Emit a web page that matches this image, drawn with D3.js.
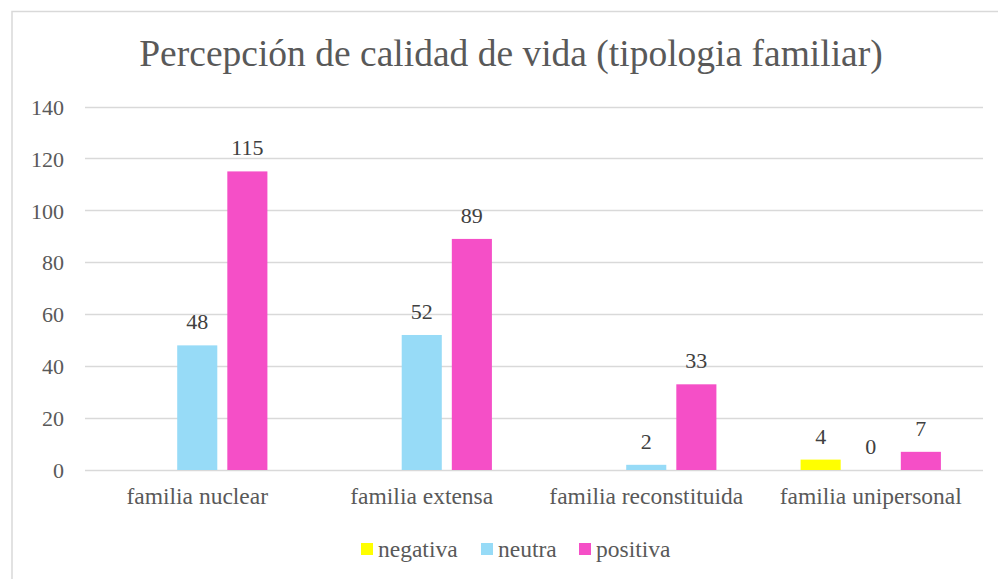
<!DOCTYPE html>
<html>
<head>
<meta charset="utf-8">
<script src="https://cdn.jsdelivr.net/npm/d3@7"></script>
<style>
  body { margin: 0; background: #fff; }
  svg { display: block; font-family: "Liberation Serif", "Times New Roman", serif; }
  svg text { font-family: "Liberation Serif", "Times New Roman", serif; }
</style>
</head>
<body>
<svg id="chart" width="998" height="579"></svg>
<script>
const categories = ["familia nuclear", "familia extensa", "familia reconstituida", "familia unipersonal"];
const series = ["negativa", "neutra", "positiva"];
const negativa = [null, null, null, 4];
const neutra = [48, 52, 2, 0];
const positiva = [115, 89, 33, 7];
const yTicks = [0, 20, 40, 60, 80, 100, 120, 140];

const colors = {
  negativa: "#ffff00",
  neutra: "#97dbf7",
  positiva: "#f54fc7",
};

const values = { negativa: negativa, neutra: neutra, positiva: positiva };

const svg = d3.select("#chart"),
  width = +svg.attr("width"),
  height = +svg.attr("height");

// chart frame (runs off the right and bottom of the picture)
svg
  .append("path")
  .attr("d", `M12,${height + 5}V11.5H${width + 5}`)
  .attr("fill", "none")
  .attr("stroke", "#d9d9d9")
  .attr("stroke-width", 1.5);

svg
  .append("text")
  .attr("x", 511)
  .attr("y", 66)
  .attr("text-anchor", "middle")
  .attr("font-size", 37.5)
  .attr("fill", "#595959")
  .text("Percepción de calidad de vida (tipologia familiar)");

const x0 = d3.scaleBand().domain(categories).range([85, 983]);
const groupW = x0.bandwidth() * 0.625;
const x1 = d3
  .scaleBand()
  .domain(series)
  .range([(x0.bandwidth() - groupW) / 2, (x0.bandwidth() + groupW) / 2])
  .paddingInner(0.2);

const y = d3.scaleLinear().domain([0, 140]).range([470, 106.5]);

// gridlines
svg
  .append("g")
  .selectAll("line")
  .data(yTicks)
  .join("line")
  .attr("x1", 85)
  .attr("x2", 983)
  .attr("y1", (d) => Math.round(y(d)) + 0.5)
  .attr("y2", (d) => Math.round(y(d)) + 0.5)
  .attr("stroke", "#d9d9d9")
  .attr("stroke-width", 1.3);

// y axis labels
const yAxis = svg
  .append("g")
  .attr("transform", "translate(64,0)")
  .call(d3.axisLeft(y).tickValues(yTicks).tickSize(0).tickPadding(0));
yAxis.attr("font-family", null);
yAxis.select(".domain").remove();
yAxis
  .selectAll("text")
  .attr("font-size", 22)
  .attr("fill", "#595959")
  .attr("dy", "0.35em");

// x axis labels
const xAxis = svg
  .append("g")
  .attr("transform", "translate(0,470)")
  .call(d3.axisBottom(x0).tickSize(0).tickPadding(17));
xAxis.attr("font-family", null);
xAxis.select(".domain").remove();
xAxis
  .selectAll("text")
  .attr("font-size", 23.5)
  .attr("fill", "#595959");

// bars
const rows = [];
categories.forEach(function (c, i) {
  series.forEach(function (s) {
    rows.push({ cat: c, key: s, value: values[s][i] });
  });
});
const shown = rows.filter((d) => d.value !== null);

const groups = svg.append("g");
groups
  .selectAll("rect")
  .data(shown)
  .join("rect")
  .attr("x", (d) => x0(d.cat) + x1(d.key))
  .attr("width", x1.bandwidth())
  .attr("y", (d) => y(d.value))
  .attr("height", (d) => y(0) - y(d.value))
  .attr("fill", (d) => colors[d.key]);

groups
  .selectAll("text")
  .data(shown)
  .join("text")
  .attr("x", (d) => x0(d.cat) + x1(d.key) + x1.bandwidth() / 2)
  .attr("y", (d) => y(d.value) - 16)
  .attr("text-anchor", "middle")
  .attr("font-size", 22)
  .attr("fill", "#404040")
  .text((d) => d.value);

// legend
const legendX = [361, 481, 579];
const legend = svg
  .append("g")
  .selectAll("g")
  .data(series)
  .join("g")
  .attr("transform", (d, i) => `translate(${legendX[i]},543)`);
legend
  .append("rect")
  .attr("width", 12)
  .attr("height", 12)
  .attr("fill", (d) => colors[d]);
legend
  .append("text")
  .attr("x", 17)
  .attr("y", 14)
  .attr("font-size", 23.5)
  .attr("fill", "#595959")
  .text((d) => d);
</script>
</body>
</html>
